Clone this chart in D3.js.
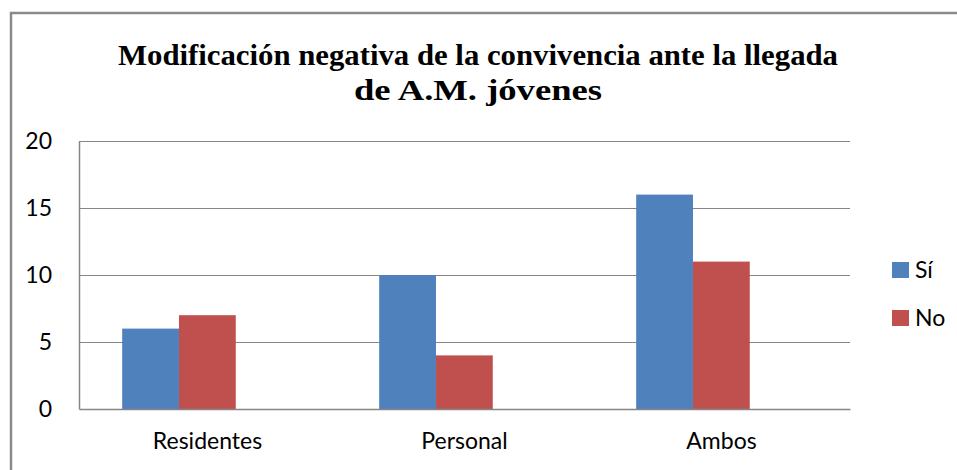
<!DOCTYPE html>
<html>
<head>
<meta charset="utf-8">
<script src="https://cdn.jsdelivr.net/npm/d3@7"></script>
<style>
  body { margin: 0; background: #ffffff; }
  svg { display: block; }
  text { font-family: Lato, "Open Sans", sans-serif; fill: #000; }
</style>
</head>
<body>
<svg id="chart" width="957" height="470"></svg>
<script>
const categories = ["Residentes", "Personal", "Ambos"];
const seriesNames = ["Sí", "No"];
const siValues = [6, 10, 16];
const noValues = [7, 4, 11];
const yTicks = [0, 5, 10, 15, 20];
const titleLines = ["Modificación negativa de la convivencia ante la llegada", "de A.M. jóvenes"];

const colors = ["#4f81bd", "#c0504d"];
const rows = categories.map((c, i) => ({ cat: c, values: [siValues[i], noValues[i]] }));

const svg = d3.select("#chart");

// outer chart frame (only top/left edges visible in the crop)
svg.append("rect")
    .attr("x", 11).attr("y", 13)
    .attr("width", 1000).attr("height", 500)
    .attr("fill", "none")
    .attr("stroke", "#8a8a8a")
    .attr("stroke-width", 2.5);

// title - condensed bold serif
svg.append("g").selectAll("text")
    .data(titleLines)
    .join("text")
    .attr("x", 478)
    .attr("y", (d, i) => 65 + i * 35)
    .attr("text-anchor", "middle")
    .style("font-family", "'Liberation Serif', 'Times New Roman', serif")
    .style("font-weight", "bold")
    .style("font-size", "30px")
    .attr("textLength", (d, i) => i === 0 ? 720 : 248)
    .attr("lengthAdjust", "spacingAndGlyphs")
    .text(d => d);

const plot = { left: 79, right: 850, top: 141, bottom: 409 };

const y = d3.scaleLinear().domain([0, 20]).range([plot.bottom, plot.top]);
const x0 = d3.scaleBand().domain(categories).range([plot.left, plot.right]);
const x1 = d3.scaleBand().domain(seriesNames)
    .range([x0.bandwidth() * 0.168, x0.bandwidth() * 0.61]);

// gridlines
svg.append("g").selectAll("line")
    .data(yTicks.filter(t => t > 0))
    .join("line")
    .attr("x1", plot.left).attr("x2", plot.right)
    .attr("y1", d => Math.round(y(d)) + 0.5).attr("y2", d => Math.round(y(d)) + 0.5)
    .attr("stroke", "#868686")
    .attr("stroke-width", 1.2);

// bars
svg.append("g").selectAll("g")
    .data(rows)
    .join("g")
    .attr("transform", d => `translate(${x0(d.cat)},0)`)
    .selectAll("rect")
    .data(d => d.values.map((v, i) => ({ name: seriesNames[i], value: v, color: colors[i] })))
    .join("rect")
    .attr("x", d => x1(d.name))
    .attr("width", x1.bandwidth())
    .attr("y", d => y(d.value))
    .attr("height", d => y(0) - y(d.value))
    .attr("fill", d => d.color);

// axes
const yAxis = svg.append("g")
    .attr("transform", `translate(${plot.left},0)`)
    .call(d3.axisLeft(y).tickValues(yTicks).tickSize(0).tickPadding(27));
yAxis.select(".domain").attr("stroke", "#868686").attr("stroke-width", 1.5);
yAxis.selectAll("text")
    .style("font-family", "Lato, sans-serif")
    .style("font-size", "23px")
    .attr("fill", "#000");

const xAxis = svg.append("g")
    .attr("transform", `translate(0,${plot.bottom})`)
    .call(d3.axisBottom(x0).tickSize(0).tickPadding(24));
xAxis.select(".domain").attr("stroke", "#868686").attr("stroke-width", 1.5);
xAxis.selectAll("text")
    .style("font-family", "Lato, sans-serif")
    .style("font-size", "23px")
    .attr("fill", "#000");

// legend
const legend = svg.append("g").selectAll("g")
    .data(seriesNames)
    .join("g")
    .attr("transform", (d, i) => `translate(892,${262 + i * 48})`);
legend.append("rect")
    .attr("width", 17).attr("height", 16)
    .attr("fill", (d, i) => colors[i]);
legend.append("text")
    .attr("x", 23).attr("y", 8)
    .attr("dy", "0.35em")
    .style("font-size", "23px")
    .text(d => d);
</script>
</body>
</html>
